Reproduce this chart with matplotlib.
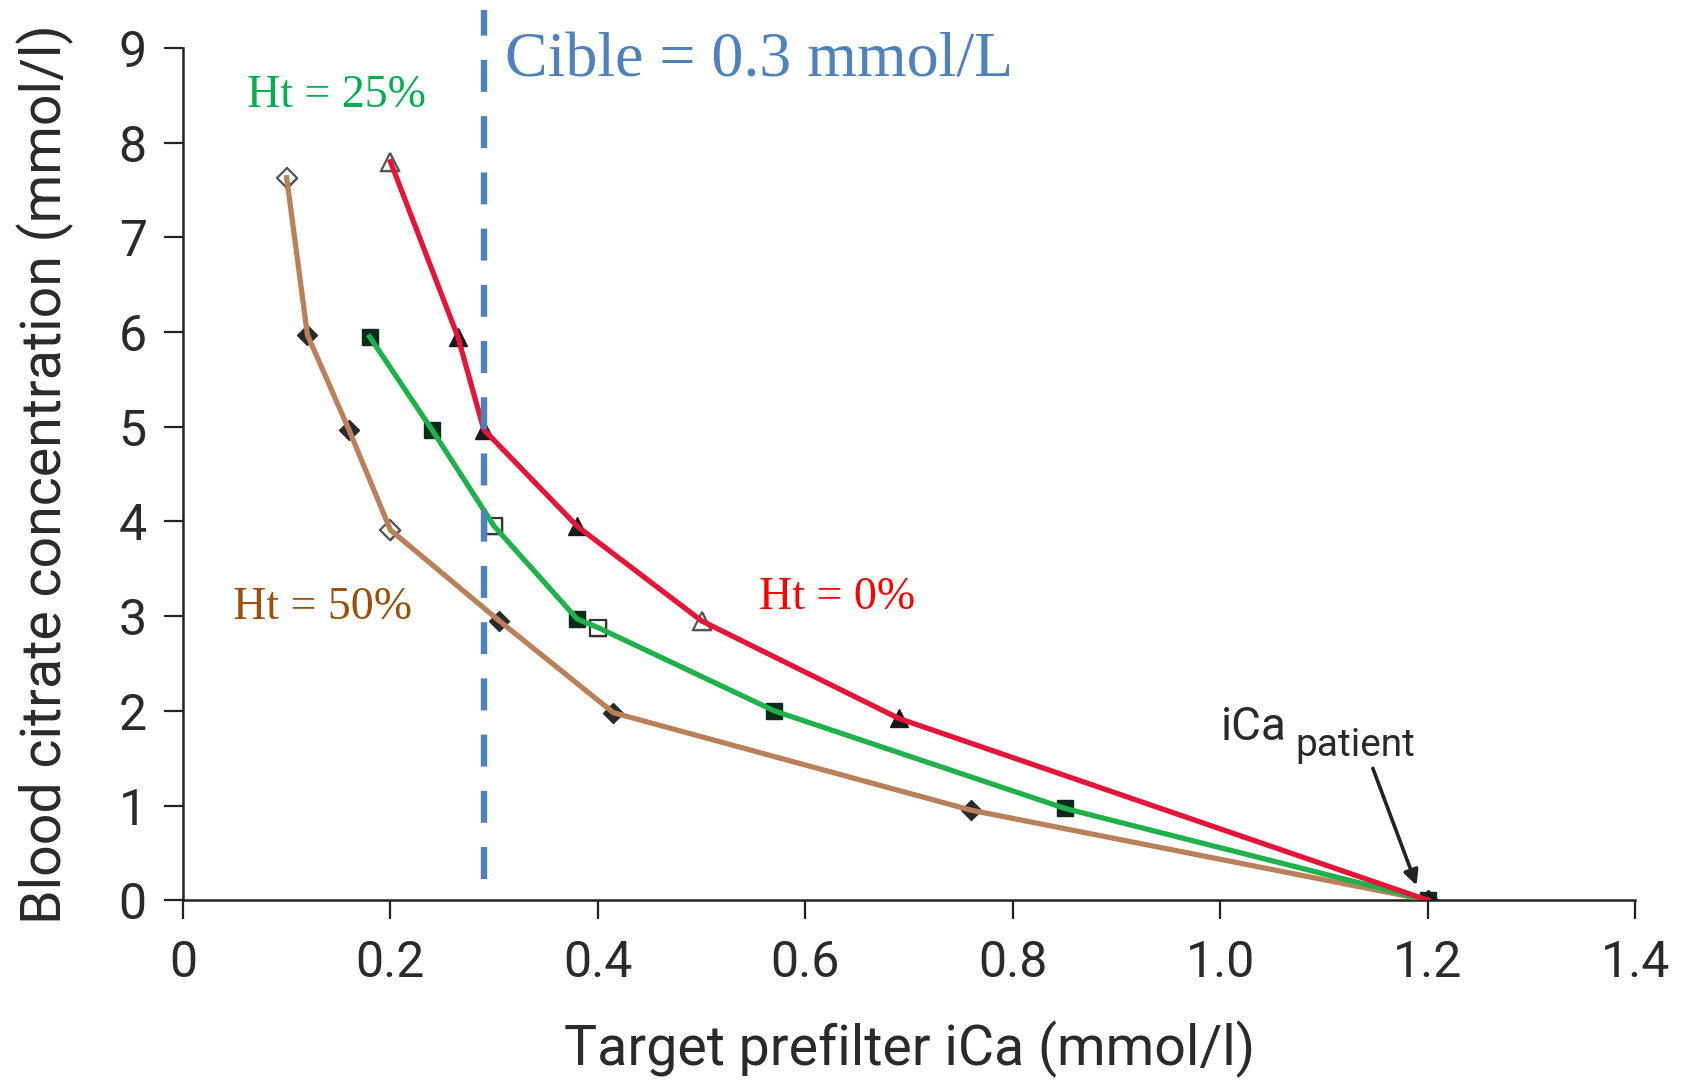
import matplotlib
matplotlib.use("Agg")
import matplotlib.pyplot as plt

# ---- data ----
ht0_x = [0.20, 0.265, 0.29, 0.38, 0.50, 0.69, 1.20]
ht0_y = [7.80, 5.95, 4.97, 3.95, 2.95, 1.92, 0.00]
ht0_open_x = [0.20, 0.50]
ht0_open_y = [7.80, 2.95]

ht25_x = [0.18, 0.24, 0.30, 0.38, 0.40, 0.57, 0.85, 1.20]
ht25_y = [5.95, 4.97, 3.95, 2.97, 2.88, 2.00, 0.97, 0.00]
ht25_open_x = [0.30, 0.40]
ht25_open_y = [3.95, 2.88]

ht50_x = [0.10, 0.12, 0.16, 0.20, 0.305, 0.415, 0.76, 1.20]
ht50_y = [7.63, 5.97, 4.97, 3.91, 2.95, 1.98, 0.95, 0.00]
ht50_open_x = [0.10, 0.20]
ht50_open_y = [7.63, 3.91]

target_ica = 0.29
x_ticks = [0, 0.2, 0.4, 0.6, 0.8, 1.0, 1.2, 1.4]
x_tick_labels = ["0", "0.2", "0.4", "0.6", "0.8", "1.0", "1.2", "1.4"]
y_ticks = list(range(0, 10))

sans = ["Roboto", "DejaVu Sans"]
serif = ["Liberation Serif", "DejaVu Serif"]

fig = plt.figure(figsize=(16.86, 10.82), dpi=100)
ax = fig.add_axes([0.1085, 0.168, 0.970 - 0.1085, 0.9556 - 0.168])

red = "#E5153A"
green = "#1FB24A"
brown = "#B98159"
blue = "#4F81BD"

ax.plot(ht50_x, ht50_y, ls="none", marker="D", ms=10, color="#2a2a2a", zorder=2)
ax.plot(ht50_open_x, ht50_open_y, ls="none", marker="D", ms=10, mfc="white",
        mec="#555555", mew=1.6, zorder=2)
ax.plot(ht50_x, ht50_y, color=brown, lw=3.8, zorder=3)

ax.plot(ht25_x, ht25_y, ls="none", marker="s", ms=12, color="#0d2b1c", zorder=2)
ax.plot(ht25_open_x, ht25_open_y, ls="none", marker="s", ms=12, mfc="white",
        mec="#333333", mew=1.6, zorder=2)
ax.plot(ht25_x, ht25_y, color=green, lw=3.8, zorder=3)

ax.plot(ht0_x, ht0_y, ls="none", marker="^", ms=13, color="#1a1a1a", zorder=2)
ax.plot(ht0_open_x, ht0_open_y, ls="none", marker="^", ms=13, mfc="white",
        mec="#555555", mew=1.6, zorder=2)
ax.plot(ht0_x, ht0_y, color=red, lw=3.8, zorder=3)

ax.plot([target_ica, target_ica], [0.22, 9.4], color=blue, lw=4.6,
        dashes=(5.0, 3.8), zorder=4, clip_on=False)

ax.set_xlim(0, 1.4)
ax.set_ylim(0, 9)
ax.set_xticks(x_ticks)
ax.set_xticklabels(x_tick_labels)
ax.set_yticks(y_ticks)
for s in ["top", "right"]:
    ax.spines[s].set_visible(False)
for s in ["left", "bottom"]:
    ax.spines[s].set_linewidth(1.8)
    ax.spines[s].set_color("#222222")
ax.tick_params(axis="both", direction="out", length=14, width=1.6, color="#222222",
               labelsize=36, labelcolor="#2a2a2a")
ax.tick_params(axis="x", pad=14)
ax.tick_params(axis="y", pad=12)
for lab in ax.get_xticklabels() + ax.get_yticklabels():
    lab.set_family(sans)

ax.set_xlabel("Target prefilter iCa (mmol/l)", fontsize=40, family=sans,
              color="#2a2a2a", labelpad=24)
ax.set_ylabel("Blood citrate concentration (mmol/l)", fontsize=40, family=sans,
              color="#2a2a2a", labelpad=32)

ax.text(0.31, 8.86, "Cible = 0.3 mmol/L", fontsize=46, family=serif, color=blue,
        va="center", ha="left")
ax.text(0.062, 8.5, "Ht = 25%", fontsize=33, family=serif, color="#00B050",
        va="center", ha="left")
ax.text(0.048, 3.09, "Ht = 50%", fontsize=33, family=serif, color="#9C4F0A",
        va="center", ha="left")
ax.text(0.555, 3.19, "Ht = 0%", fontsize=33, family=serif, color="#FF0000",
        va="center", ha="left")

ax.text(1.0, 1.69, "iCa", fontsize=33, family=sans, color="#2a2a2a",
        va="baseline", ha="left")
ax.text(1.072, 1.52, "patient", fontsize=28, family=sans, color="#2a2a2a",
        va="baseline", ha="left")
ax.annotate("", xy=(1.19, 0.13), xytext=(1.146, 1.42),
            arrowprops=dict(arrowstyle="-|>", color="#222222", lw=2.6,
                            mutation_scale=22))

fig.savefig("out.png", dpi=100, facecolor="white")
